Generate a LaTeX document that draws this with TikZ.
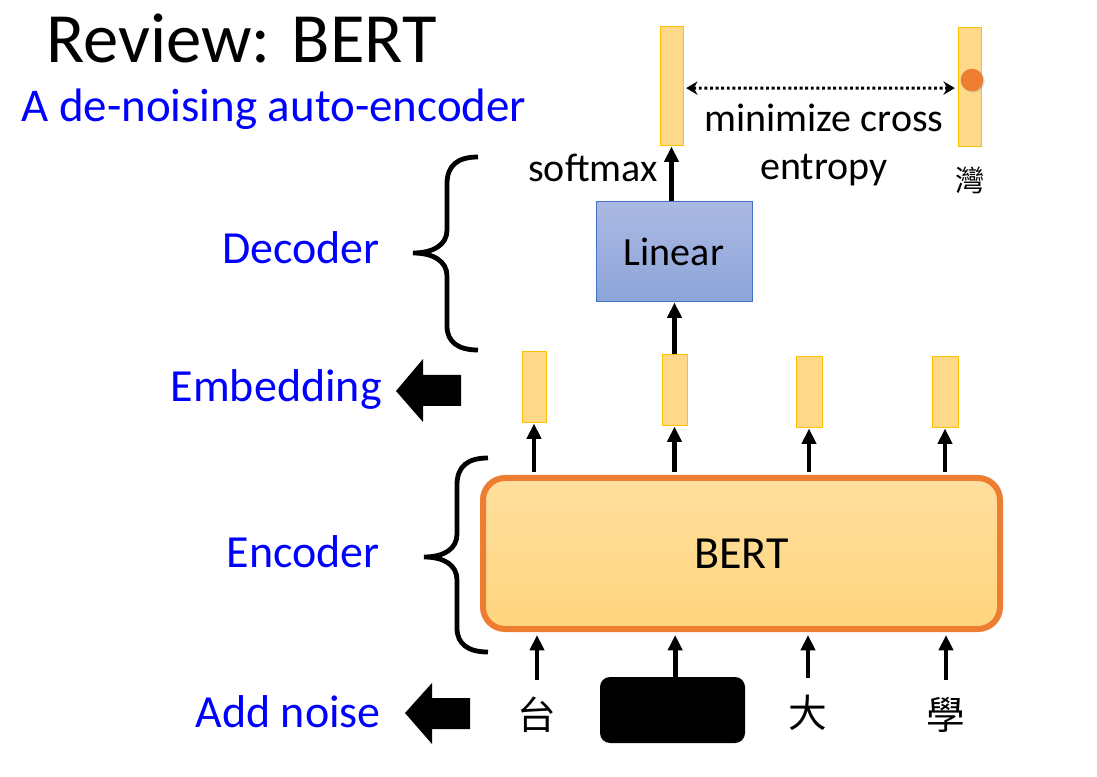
\documentclass[tikz,border=0pt]{standalone}
\usepackage{fontspec}
\setmainfont{Carlito}
\newfontfamily\cjk{Noto Sans CJK TC}
\usepackage{tikz}
\usetikzlibrary{positioning,arrows.meta,shadows}

\definecolor{vecfill}{RGB}{255,217,138}
\definecolor{vecdraw}{RGB}{255,192,0}
\definecolor{berttop}{RGB}{255,223,158}
\definecolor{bertbot}{RGB}{255,213,126}
\definecolor{bertdraw}{RGB}{237,125,49}
\definecolor{lintop}{RGB}{171,185,226}
\definecolor{linbot}{RGB}{141,164,217}
\definecolor{lindraw}{RGB}{68,114,196}
\definecolor{labelblue}{RGB}{0,0,255}

\begin{document}
\begin{tikzpicture}[x=0.75pt,y=-0.75pt,
    vec/.style={draw=vecdraw,fill=vecfill,line width=0.75pt,inner sep=0pt},
    arr/.style={-{Triangle[width=10.5pt,length=11.5pt]},line width=3.5pt},
    side/.style={anchor=base east,inner sep=0pt,text=labelblue,font=\fontsize{34.5}{40}\selectfont},
    txt/.style={inner sep=0pt,font=\fontsize{30}{36}\selectfont},
    curly/.style={line width=3.6pt},
    ch/.style={inner sep=0pt,minimum height=52.5pt,font=\cjk\fontsize{29}{34}\selectfont}]
    \useasboundingbox (0,0) rectangle (1097,777);
    %%%%% TITLE
    \node[anchor=base west,inner sep=0pt,font=\fontsize{53}{60}\selectfont] (title) at (46,63) {Review: BERT};
    \node[anchor=base west,inner sep=0pt,text=labelblue,font=\fontsize{35.2}{40}\selectfont] (subtitle) at (21,122) {A de-noising auto-encoder};
    %%%%% OUTPUT AND TARGET
    \node[vec,minimum width=17.25pt,minimum height=89.25pt] (out) at (671.5,86.5) {};
    \node[vec,minimum width=17.25pt,minimum height=89.25pt] (tgt) at (969.5,87) {};
    \node[circle,fill=bertdraw,minimum size=17pt,inner sep=0pt,
        drop shadow={opacity=0.25,shadow xshift=1pt,shadow yshift=-1pt}] (dot) at (972,80) {};
    \draw[line width=2.2pt,dash pattern=on 2.2pt off 2pt,
        {Stealth[width=10pt,length=8.5pt]}-{Stealth[width=10pt,length=8.5pt]}]
        ([xshift=2pt,yshift=-1.2pt]out.east) -- ([xshift=-2pt,yshift=-0.8pt]tgt.west);
    \node[txt,anchor=base] (mincross) at (824,132) {minimize cross};
    \node[txt,anchor=base] (entropy) at (824,180) {entropy};
    \node[txt,anchor=base east] (softmax) at (658,182) {softmax};
    \node[inner sep=0pt,font=\cjk\fontsize{22}{26}\selectfont] (wan) at (970,180) {灣};
    %%%%% DECODER
    \node[draw=lindraw,line width=0.75pt,top color=lintop,bottom color=linbot,
        minimum width=117pt,minimum height=75pt,txt] (lin) at (674,252) {Linear};
    \draw[arr] (out.south |- lin.north) -- (out.south);
    %%%%% EMBEDDINGS
    \node[vec,minimum width=18pt,minimum height=53.25pt] (e1) at (534,387.5) {};
    \node[vec,minimum width=18.75pt,minimum height=53.25pt] (e2) at (674.5,390.5) {};
    \node[vec,minimum width=19.5pt,minimum height=53.25pt] (e3) at (809,392.5) {};
    \node[vec,minimum width=19.5pt,minimum height=53.25pt] (e4) at (945,392.5) {};
    \draw[arr] (e2.north) -- (e2.north |- lin.south);
    %%%%% ENCODER
    \node[draw=bertdraw,line width=4.5pt,rounded corners=16.5pt,top color=berttop,bottom color=bertbot,
        minimum width=387.75pt,minimum height=113.25pt,font=\fontsize{34.5}{40}\selectfont] (bert) at (741.5,553.5) {BERT};
    \foreach \e in {e1,e2,e3,e4}
        \draw[arr,shorten <=2.25pt] (bert.north -| \e) -- (\e.south);
    %%%%% INPUT WITH NOISE
    \node[ch] (tai) at (537,715) {台};
    \node[fill=black,rounded corners=7.5pt,minimum width=108.75pt,minimum height=49.5pt] (mask) at (672.5,710) {};
    \node[ch] (da) at (808,713) {大};
    \node[ch] (xue) at (946,715) {學};
    \draw[arr,shorten >=2.25pt] (tai.north) -- (tai.north |- bert.south);
    \draw[arr,shorten >=2.25pt] ([xshift=2pt]mask.north) -- ([xshift=2pt]mask.north |- bert.south);
    \draw[arr,shorten >=2.25pt] (da.north) -- (da.north |- bert.south);
    \draw[arr,shorten >=2.25pt] (xue.north) -- (xue.north |- bert.south);
    %%%%% SIDE LABELS, BRACES AND FAT ARROWS
    \node[side] (declabel) at (380,264) {Decoder};
    \node[side] (emblabel) at (382,402) {Embedding};
    \node[side] (enclabel) at (380,567) {Encoder};
    \node[side] (noiselabel) at (381,727) {Add noise};
    \draw[curly] (478,157) .. controls (458,157) and (447,165) .. (447,184) -- (447,230)
        .. controls (447,245) and (433,253) .. (413,253) .. controls (433,253) and (447,261) .. (447,276)
        -- (447,326) .. controls (447,342) and (458,350) .. (478,350);
    \draw[curly] (488,458) .. controls (468,458) and (457,466) .. (457,485) -- (457,534)
        .. controls (457,549) and (444,557) .. (424,557) .. controls (444,557) and (457,565) .. (457,580)
        -- (457,628) .. controls (457,644) and (468,652) .. (488,652);
    \fill (396,391) -- (423,359) -- (423,375) -- (461,375) -- (461,406) -- (423,406) -- (423,422) -- cycle;
    \fill (405,713) -- (432,683) -- (432,698) -- (470,698) -- (470,729) -- (432,729) -- (432,744) -- cycle;
\end{tikzpicture}
\end{document}
